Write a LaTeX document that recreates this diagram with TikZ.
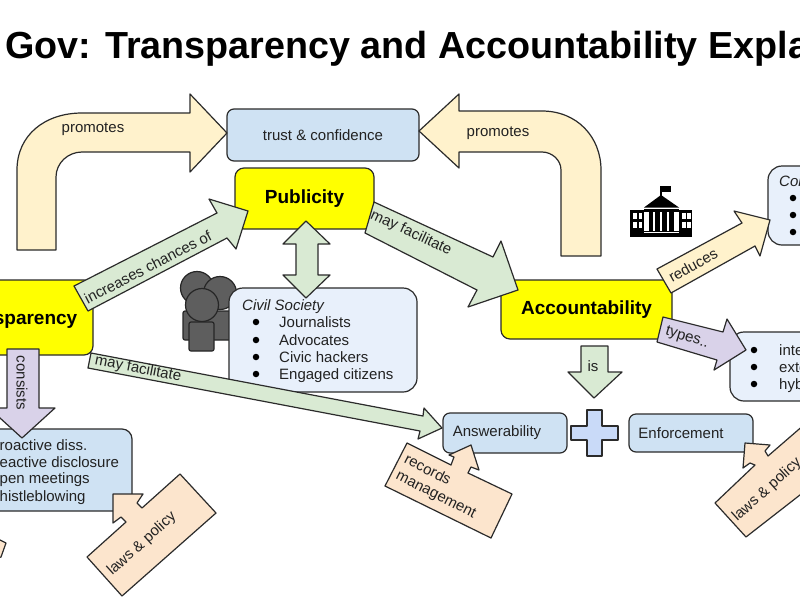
\documentclass[tikz,border=0pt]{standalone}
\usepackage{fontspec}
\setmainfont{Liberation Sans}
\definecolor{ink}{HTML}{2B2B2B}
\definecolor{txt}{HTML}{222222}
\definecolor{sandc}{HTML}{FFF2CC}
\definecolor{peachc}{HTML}{FCE5CD}
\definecolor{greenc}{HTML}{D9EAD3}
\definecolor{violetc}{HTML}{D9D2E9}
\definecolor{bluec}{HTML}{CFE2F3}
\definecolor{palec}{HTML}{E8F0FB}
\definecolor{plusc}{HTML}{C9DAF8}
\definecolor{brightyellow}{HTML}{FFFF00}
\definecolor{personc}{HTML}{5E5E5E}
\tikzset{
  ln/.style={draw=ink,line width=1.2pt,line join=round},
  boxbase/.style={ln,rounded corners=#1,inner sep=0pt,text=txt},
  bluebox/.style={boxbase=7pt,fill=bluec,font=\fontsize{15}{17}\selectfont},
  palebox/.style={boxbase=14pt,fill=palec},
  yellowbox/.style={boxbase=9pt,fill=brightyellow,font=\fontsize{19}{21}\bfseries\selectfont,text=black},
  sandarrow/.style={ln,fill=sandc},
  peacharrow/.style={ln,fill=peachc},
  greenarrow/.style={ln,fill=greenc},
  violetarrow/.style={ln,fill=violetc},
  lab/.style={font=\fontsize{15}{18}\selectfont,text=txt,inner sep=0pt},
  listtxt/.style={font=\fontsize{15}{17}\selectfont,text=txt,inner sep=0pt,anchor=base west},
  dot/.style={circle,fill=black,inner sep=0pt,minimum size=6.5pt},
  person/.style={draw=black!85,line width=1.2pt,fill=personc},
}
\begin{document}
\begin{tikzpicture}[x=1pt,y=-1pt]
\clip (0,0) rectangle (800,600);
\fill[white] (0,0) rectangle (800,600);

% title
\node[anchor=base west,inner sep=0pt,font=\fontsize{37.7}{40}\bfseries\selectfont,text=black] (title) at (5,58) {Gov: Transparency and Accountability Expla};

% people
\draw[person] (197,288) circle (16.5);
\draw[person] (220,293) circle (16.5);
\draw[person,rounded corners=2pt] (183,340) rectangle (231,311);
\draw[person] (202,305) circle (16.5);
\draw[person,rounded corners=2pt] (189,351) rectangle (214,322);

% boxes
\node[bluebox,minimum width=192pt,minimum height=52pt] (trust) at (323,135) {trust \& confidence};
\node[yellowbox,minimum width=139pt,minimum height=61pt] (pub) at (304.5,198.5) {Publicity};
\node[yellowbox,minimum width=140pt,minimum height=75pt] (trans) at (23,317.5) {};
\node[anchor=base east,inner sep=0pt,font=\fontsize{19}{21}\bfseries\selectfont,text=black] (transtxt) at (77.5,324) {sparency};
\node[yellowbox,minimum width=171pt,minimum height=59pt] (acc) at (586.5,309.5) {Accountability};
\node[palebox,minimum width=188pt,minimum height=104pt] (civil) at (323,340) {};
\node[palebox,minimum width=80pt,minimum height=79pt] (corr) at (808,205.5) {};
\node[palebox,minimum width=120pt,minimum height=69pt] (typ) at (790,366.5) {};
\node[bluebox,rounded corners=10pt,minimum width=172pt,minimum height=82pt] (disc) at (46,470) {};
\node[bluebox,minimum width=124pt,minimum height=40pt] (ans) at (505,433) {\hspace*{-16pt}Answerability};
\node[bluebox,minimum width=124pt,minimum height=38pt] (enf) at (691,433) {\hspace*{-20pt}Enforcement};

% box texts
\node[anchor=base west,inner sep=0pt,font=\fontsize{15}{17}\itshape\selectfont,text=txt] (civilt) at (242,310) {Civil Society};
\foreach \n/\y/\t in {a/322/Journalists,b/340/Advocates,c/357/Civic hackers,d/374/Engaged citizens}{
  \node[dot] (cd\n) at (256,\y) {};
  \node[listtxt] (ct\n) at (279,\y+5) {\t};
}
\node[anchor=base west,inner sep=0pt,font=\fontsize{15}{17}\itshape\selectfont,text=txt] (corrt) at (779,186) {Con};
\foreach \n/\y in {a/198,b/215,c/232}{\node[dot] (kd\n) at (793,\y) {};}
\foreach \n/\y/\t in {a/350/inte,b/367/exte,c/384/hyb}{
  \node[dot] (td\n) at (754,\y) {};
  \node[listtxt] (tt\n) at (779,\y+5) {\t};
}
\foreach \n/\y/\t in {a/445/roactive diss.,b/462/eactive disclosure,c/478/pen meetings,d/496/histleblowing}{
  \node[listtxt] (dt\n) at (-0.5,\y+5) {\t};
}

% plus
\draw[ln,fill=plusc] (587,410) -- (602,410) -- (602,426) -- (618,426) -- (618,440) -- (602,440) -- (602,456) -- (587,456) -- (587,440) -- (571,440) -- (571,426) -- (587,426) -- cycle;

% curved arrows
\draw[sandarrow] (17,250) -- (17,170) .. controls (17,135) and (45,113) .. (82,113) -- (190,113) -- (190,94) -- (227,133) -- (190,172) -- (190,152) -- (82,152) .. controls (68,152) and (56,163) .. (56,177) -- (56,250) -- cycle;
\draw[sandarrow] (419,131) -- (459,94) -- (459,111) -- (542,111) .. controls (577,111) and (601,137) .. (601,170) -- (601,256) -- (561,256) -- (561,170) .. controls (561,160) and (552,152) .. (542,152) -- (459,152) -- (459,168) -- cycle;

% straight arrows
\draw[greenarrow] (74,286) -- (217,213) -- (209,199) -- (248,211) -- (236,249) -- (227,238) -- (88,311) -- cycle;
\draw[greenarrow] (374,202) -- (493,257) -- (501,241) -- (518,290) -- (468,307) -- (477,290) -- (365,233) -- cycle;
\draw[greenarrow] (306,221) -- (330,244) -- (318,244) -- (318,275) -- (330,275) -- (306,298) -- (283,275) -- (296,275) -- (296,244) -- (283,244) -- cycle;
\draw[greenarrow] (91,353) -- (423,416) -- (424,408) -- (442,428) -- (418,439) -- (420,431) -- (88,368) -- cycle;
\draw[greenarrow] (581,346) -- (608,346) -- (608,372) -- (622,372) -- (594,398) -- (568,372) -- (581,372) -- cycle;
\draw[violetarrow] (7,349) -- (39,349) -- (39,408) -- (55,408) -- (22,438) -- (-11,408) -- (7,408) -- cycle;
\draw[sandarrow] (657,269) -- (742,223) -- (734,211) -- (770,220) -- (760,256) -- (755,246) -- (671,293) -- cycle;
\draw[violetarrow] (663,317) -- (723,332) -- (727,319) -- (746,350) -- (714,370) -- (717,360) -- (657,342) -- cycle;

% peach arrows
\draw[peacharrow] (113,494) -- (143,494) -- (137,503) -- (142,508) -- (180,474) -- (216,513) -- (122,596) -- (87,557) -- (126,522) -- (121,517) -- (113,523) -- cycle;
\draw[peacharrow] (471,445) -- (479,470) -- (471,467) -- (468,473) -- (512,494) -- (491,538) -- (385,486) -- (407,443) -- (451,465) -- (454,457) -- (449,455) -- cycle;
\draw[peacharrow] (745,443) -- (770,445) -- (765,451) -- (768,456) -- (805,424) -- (841,463) -- (746,537) -- (715,503) -- (755,465) -- (750,463) -- (743,468) -- cycle;
\draw[peacharrow] (-10,535) -- (6,543) -- (1,557) -- (-10,560) -- cycle;

% arrow labels
\node[lab] (l1) at (93,129) {promotes};
\node[lab] (l2) at (498,133) {promotes};
\node[lab,rotate=27.5] (l3) at (148,267) {increases chances of};
\node[lab,rotate=-25] (l4) at (411,233) {may facilitate};
\node[lab,rotate=-11] (l5) at (138,369) {may facilitate};
\node[lab,rotate=-90] (l6) at (22,383) {consists};
\node[lab] (l7) at (593,366) {is};
\node[lab,rotate=29] (l8) at (693,265) {reduces};
\node[lab,rotate=-17] (l9) at (687,338) {types..};
\node[lab,rotate=42] (l10) at (142,544) {laws \& policy};
\node[lab,rotate=42] (l11) at (767,490) {laws \& policy};
\node[lab,rotate=-27,align=left] (l12) at (440,487) {records\\management};

% building icon
\begin{scope}
\fill[black] (660,186) rectangle (661.5,198);
\fill[black] (661,185.5) rectangle (671,192);
\fill[black] (644,207.5) -- (661,195) -- (679,207.5) -- cycle;
\fill[black] (630,209.5) rectangle (644,236.5);
\fill[black] (679,209.5) rectangle (692,236.5);
\fill[black] (644,209) rectangle (679,236.5);
\fill[white] (644,212) rectangle (649,231);
\fill[white] (674,212) rectangle (679,231);
\fill[white] (644,231.5) rectangle (679,233);
\foreach \x in {652.5,659.5,666.5}{\fill[white] (\x,212) rectangle (\x+2.8,231);}
\foreach \x/\y in {633/213,638.5/213,633/222,638.5/222,682/213,687/213,682/222,687/222}{\fill[white] (\x,\y) rectangle (\x+3.5,\y+6);}
\end{scope}
\end{tikzpicture}
\end{document}
